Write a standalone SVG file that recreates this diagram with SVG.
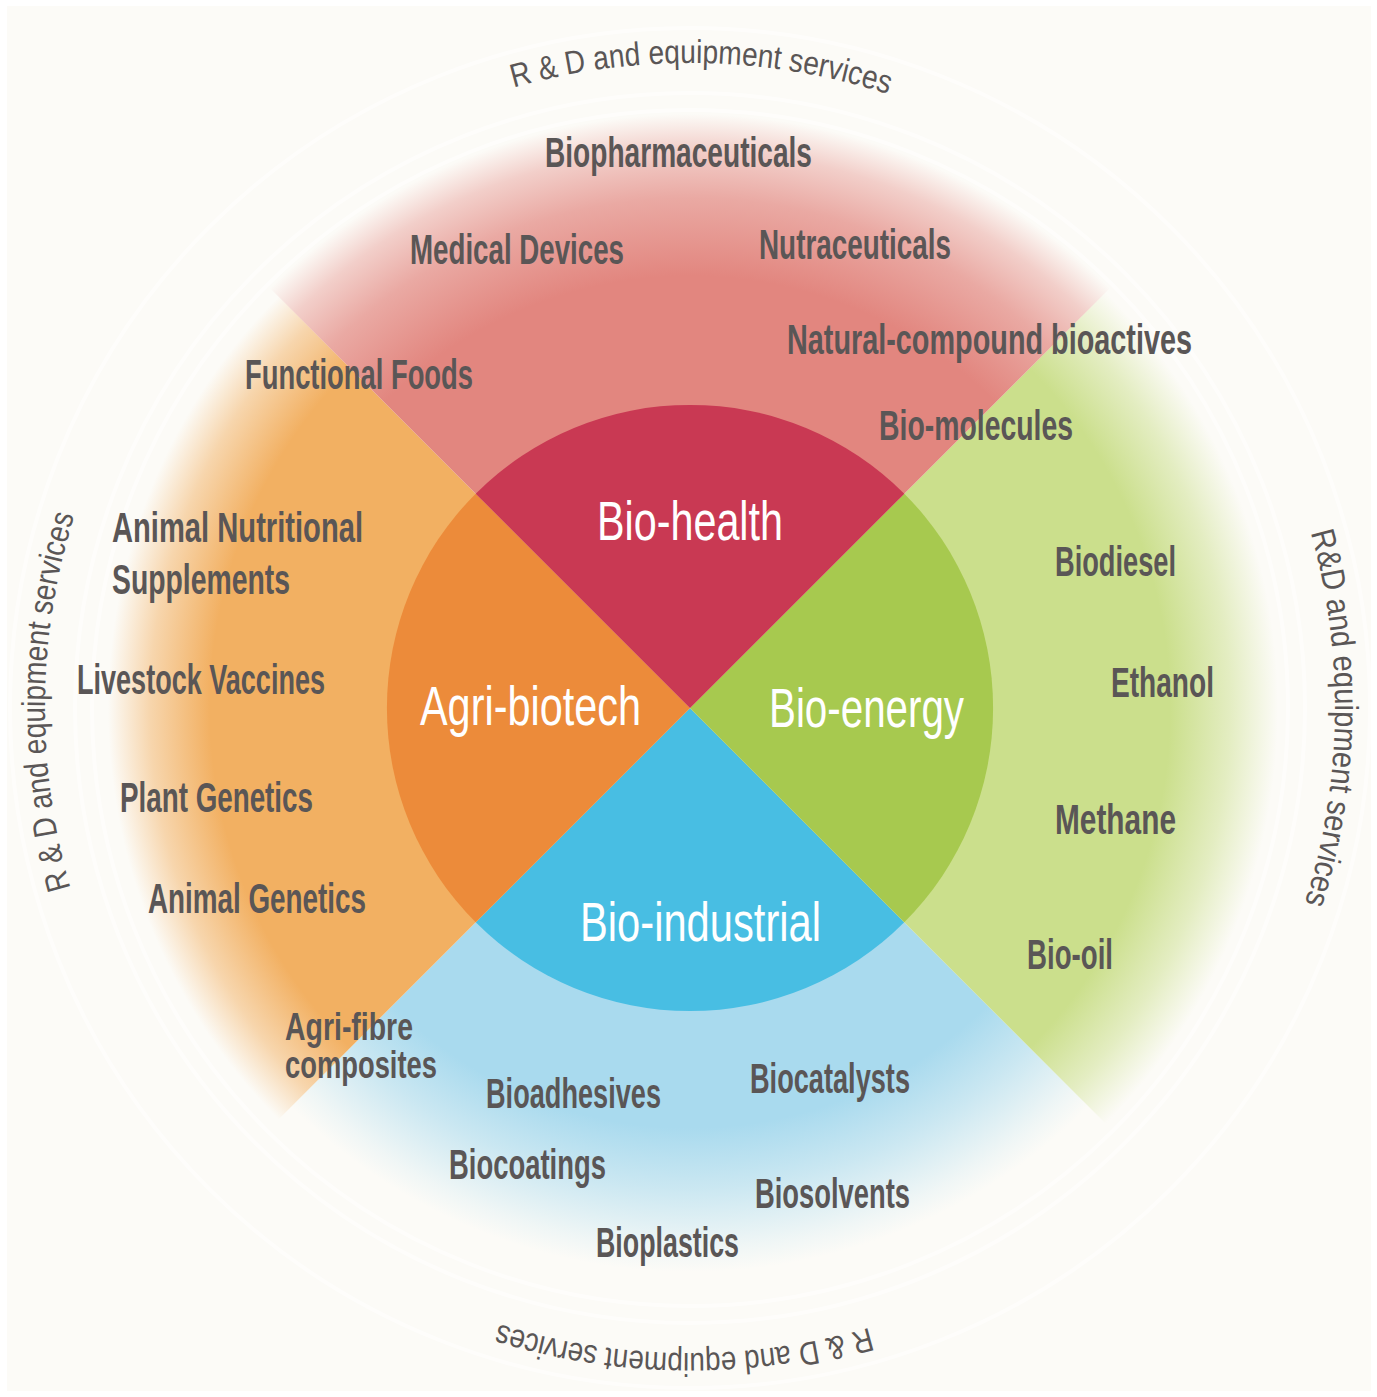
<svg xmlns="http://www.w3.org/2000/svg" width="1377" height="1397" viewBox="0 0 1377 1397">
<style>
.lbl{font-family:"Liberation Sans",Arial,sans-serif;font-size:43px;font-weight:bold;fill:#5a5656}
.small{font-size:39px}
.core{font-family:"Liberation Sans",Arial,sans-serif;font-size:55px;fill:#ffffff}
.ring{font-family:"Liberation Sans",Arial,sans-serif;font-size:33px;fill:#5a5656}
.halo{fill:none;stroke:#ffffff;stroke-width:4;opacity:0.55}
</style>
<defs>
<radialGradient id="gRed" gradientUnits="userSpaceOnUse" cx="690" cy="708" r="600">
<stop offset="0" stop-color="#e2867f"/>
<stop offset="0.72" stop-color="#e2867f"/>
<stop offset="0.85" stop-color="#e2867f" stop-opacity="0.7"/>
<stop offset="0.93" stop-color="#e2867f" stop-opacity="0.38"/>
<stop offset="0.99" stop-color="#e2867f" stop-opacity="0"/>
</radialGradient>
<radialGradient id="gOrange" gradientUnits="userSpaceOnUse" cx="690" cy="708" r="600">
<stop offset="0" stop-color="#f2b062"/>
<stop offset="0.8" stop-color="#f2b062"/>
<stop offset="0.9" stop-color="#f2b062" stop-opacity="0.5"/>
<stop offset="0.97" stop-color="#f2b062" stop-opacity="0"/>
</radialGradient>
<radialGradient id="gGreen" gradientUnits="userSpaceOnUse" cx="690" cy="708" r="600">
<stop offset="0" stop-color="#cbdf8c"/>
<stop offset="0.8" stop-color="#cbdf8c"/>
<stop offset="0.9" stop-color="#cbdf8c" stop-opacity="0.5"/>
<stop offset="0.98" stop-color="#cbdf8c" stop-opacity="0"/>
</radialGradient>
<radialGradient id="gBlue" gradientUnits="userSpaceOnUse" cx="690" cy="708" r="600">
<stop offset="0" stop-color="#a9daee"/>
<stop offset="0.7" stop-color="#a9daee"/>
<stop offset="0.8" stop-color="#a9daee" stop-opacity="0.6"/>
<stop offset="0.9" stop-color="#a9daee" stop-opacity="0.15"/>
<stop offset="0.94" stop-color="#a9daee" stop-opacity="0"/>
</radialGradient>
<path id="ringPath" d="M233.9,1164.1 A645,645 0 0 1 1146.1,251.9 A645,645 0 0 1 233.9,1164.1"/>
</defs>

<rect x="0" y="0" width="1377" height="1397" fill="#ffffff"/>
<rect x="7" y="6" width="1364" height="1385" fill="#fcfbf7"/>
<circle class="halo" cx="690" cy="708" r="598"/>
<circle class="halo" cx="690" cy="708" r="615"/>
<circle class="halo" cx="690" cy="708" r="680"/>

<g id="ring-labels">
<text class="ring"><textPath href="#ringPath" startOffset="513" text-anchor="middle" textLength="378" lengthAdjust="spacingAndGlyphs">R &amp; D and equipment services</textPath></text>
<text class="ring"><textPath href="#ringPath" startOffset="1531" text-anchor="middle" textLength="380" lengthAdjust="spacingAndGlyphs">R &amp; D  and equipment services</textPath></text>
<text class="ring"><textPath href="#ringPath" startOffset="2543" text-anchor="middle" textLength="376" lengthAdjust="spacingAndGlyphs">R&amp;D and equipment services</textPath></text>
<text class="ring"><textPath href="#ringPath" startOffset="3552" text-anchor="middle" textLength="376" lengthAdjust="spacingAndGlyphs">R &amp; D and equipment services</textPath></text>
</g>

<g id="bio-industrial">
<path d="M690,708 L1114.3,1132.3 A600,600 0 0 1 265.7,1132.3 Z" fill="url(#gBlue)"/>
<path d="M690,708 L904.3,922.3 A303,303 0 0 1 475.7,922.3 Z" fill="#48bee3"/>
<text class="core" x="580" y="941" textLength="241" lengthAdjust="spacingAndGlyphs">Bio-industrial</text>
<text class="lbl" x="486" y="1108" textLength="175" lengthAdjust="spacingAndGlyphs">Bioadhesives</text>
<text class="lbl" x="750" y="1093" textLength="160" lengthAdjust="spacingAndGlyphs">Biocatalysts</text>
<text class="lbl" x="449" y="1179" textLength="157" lengthAdjust="spacingAndGlyphs">Biocoatings</text>
<text class="lbl" x="755" y="1208" textLength="155" lengthAdjust="spacingAndGlyphs">Biosolvents</text>
<text class="lbl" x="596" y="1257" textLength="143" lengthAdjust="spacingAndGlyphs">Bioplastics</text>
</g>

<g id="bio-energy">
<path d="M690,708 L1114.3,283.7 A600,600 0 0 1 1114.3,1132.3 Z" fill="url(#gGreen)"/>
<path d="M690,708 L904.3,493.7 A303,303 0 0 1 904.3,922.3 Z" fill="#a7c94f"/>
<text class="core" x="769" y="727" textLength="195" lengthAdjust="spacingAndGlyphs">Bio-energy</text>
<text class="lbl" x="1055" y="576" textLength="121" lengthAdjust="spacingAndGlyphs">Biodiesel</text>
<text class="lbl" x="1111" y="697" textLength="103" lengthAdjust="spacingAndGlyphs">Ethanol</text>
<text class="lbl" x="1055" y="834" textLength="121" lengthAdjust="spacingAndGlyphs">Methane</text>
<text class="lbl" x="1027" y="969" textLength="86" lengthAdjust="spacingAndGlyphs">Bio-oil</text>
</g>

<g id="agri-biotech">
<path d="M690,708 L265.7,1132.3 A600,600 0 0 1 265.7,283.7 Z" fill="url(#gOrange)"/>
<path d="M690,708 L475.7,922.3 A303,303 0 0 1 475.7,493.7 Z" fill="#ec8b3a"/>
<text class="core" x="420" y="725" textLength="221" lengthAdjust="spacingAndGlyphs">Agri-biotech</text>
<text class="lbl" x="112" y="542" textLength="251" lengthAdjust="spacingAndGlyphs">Animal Nutritional</text>
<text class="lbl" x="112" y="594" textLength="178" lengthAdjust="spacingAndGlyphs">Supplements</text>
<text class="lbl" x="77" y="694" textLength="248" lengthAdjust="spacingAndGlyphs">Livestock Vaccines</text>
<text class="lbl" x="120" y="812" textLength="193" lengthAdjust="spacingAndGlyphs">Plant Genetics</text>
<text class="lbl" x="148" y="913" textLength="218" lengthAdjust="spacingAndGlyphs">Animal Genetics</text>
<text class="lbl small" x="285" y="1040" textLength="128" lengthAdjust="spacingAndGlyphs">Agri-fibre</text>
<text class="lbl small" x="285" y="1078" textLength="152" lengthAdjust="spacingAndGlyphs">composites</text>
</g>

<g id="bio-health">
<path d="M690,708 L265.7,283.7 A600,600 0 0 1 1114.3,283.7 Z" fill="url(#gRed)"/>
<path d="M690,708 L475.7,493.7 A303,303 0 0 1 904.3,493.7 Z" fill="#c93953"/>
<text class="core" x="597" y="540" textLength="186" lengthAdjust="spacingAndGlyphs">Bio-health</text>
<text class="lbl" x="545" y="167" textLength="267" lengthAdjust="spacingAndGlyphs">Biopharmaceuticals</text>
<text class="lbl" x="410" y="264" textLength="214" lengthAdjust="spacingAndGlyphs">Medical Devices</text>
<text class="lbl" x="759" y="259" textLength="192" lengthAdjust="spacingAndGlyphs">Nutraceuticals</text>
<text class="lbl" x="787" y="354" textLength="405" lengthAdjust="spacingAndGlyphs">Natural-compound bioactives</text>
<text class="lbl" x="879" y="440" textLength="194" lengthAdjust="spacingAndGlyphs">Bio-molecules</text>
<text class="lbl" x="245" y="389" textLength="228" lengthAdjust="spacingAndGlyphs">Functional Foods</text>
</g>

<g id="connectors"/>
</svg>
